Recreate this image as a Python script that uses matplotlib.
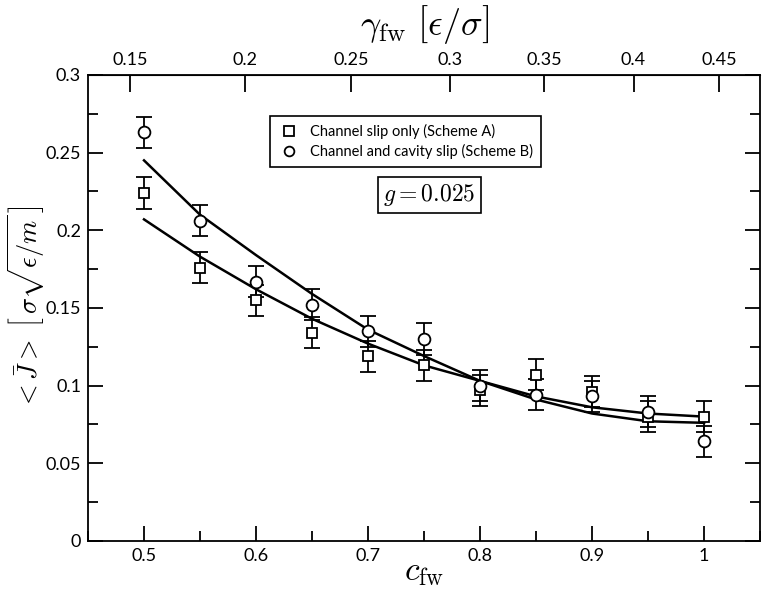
import numpy as np
import matplotlib
matplotlib.use('Agg')
import matplotlib.pyplot as plt
from matplotlib.lines import Line2D
from matplotlib.ticker import MultipleLocator

plt.rcParams['mathtext.fontset'] = 'cm'
plt.rcParams['font.family'] = ['Lato', 'DejaVu Sans']

# ── DATA ──
c_fw = [0.5, 0.55, 0.6, 0.65, 0.7, 0.75, 0.8, 0.85, 0.9, 0.95, 1.0]

# Scheme A: channel slip only
j_a = [0.224, 0.176, 0.155, 0.134, 0.119, 0.113, 0.097, 0.107, 0.096, 0.080, 0.080]
err_a = [0.01] * 11
fit_a = [0.207, 0.183, 0.162, 0.143, 0.127, 0.113, 0.103, 0.093, 0.086, 0.082, 0.080]

# Scheme B: channel and cavity slip
j_b = [0.263, 0.206, 0.167, 0.152, 0.135, 0.130, 0.100, 0.094, 0.093, 0.083, 0.064]
err_b = [0.01] * 11
fit_b = [0.245, 0.210, 0.184, 0.159, 0.136, 0.119, 0.103, 0.091, 0.082, 0.077, 0.076]

x_ticks = [0.5, 0.6, 0.7, 0.8, 0.9, 1.0]
x_ticklabels = ['0.5', '0.6', '0.7', '0.8', '0.9', '1']
y_ticks = [0, 0.05, 0.1, 0.15, 0.2, 0.25, 0.3]
y_ticklabels = ['0', '0.05', '0.1', '0.15', '0.2', '0.25', '0.3']
gamma_ticks = [0.15, 0.2, 0.25, 0.3, 0.35, 0.4, 0.45]
gamma_ticklabels = ['0.15', '0.2', '0.25', '0.3', '0.35', '0.4', '0.45']
legend_labels = ['Channel slip only (Scheme A)',
                 'Channel and cavity slip (Scheme B)']

# gamma_fw as a function of c_fw
K = 0.441


def c_to_gamma(c):
    return K * np.abs(c) ** 1.5


def gamma_to_c(g):
    return (np.abs(g) / K) ** (2.0 / 3.0)


# ── PLOT ──
fig = plt.figure(figsize=(7.62, 5.95), dpi=100)
ax = fig.add_axes([0.1155, 0.091, 0.882, 0.783])

ax.plot(c_fw, fit_a, color='black', lw=1.8, zorder=2)
ax.plot(c_fw, fit_b, color='black', lw=1.8, zorder=2)

ax.errorbar(c_fw, j_a, yerr=err_a, fmt='s', ms=6.5, mfc='white',
            mec='black', mew=1.3, ecolor='black', elinewidth=1.3,
            capsize=6, capthick=1.3, zorder=3)
ax.errorbar(c_fw, j_b, yerr=err_b, fmt='o', ms=8.5, mfc='white',
            mec='black', mew=1.3, ecolor='black', elinewidth=1.3,
            capsize=6, capthick=1.3, zorder=3)

ax.set_xlim(0.45, 1.05)
ax.set_ylim(0, 0.3)
ax.set_xticks(x_ticks)
ax.set_xticklabels(x_ticklabels)
ax.xaxis.set_minor_locator(MultipleLocator(0.05))
ax.set_yticks(y_ticks)
ax.set_yticklabels(y_ticklabels)
ax.yaxis.set_minor_locator(MultipleLocator(0.025))

ax.tick_params(which='both', direction='in', top=False, right=True,
               labelsize=13, width=1.3)
ax.tick_params(which='major', length=11, pad=5)
ax.tick_params(which='minor', length=7)
for s in ax.spines.values():
    s.set_linewidth(1.3)

ax.set_xlabel(r'$c_{\rm fw}$', fontsize=24, labelpad=-4)
ax.set_ylabel(r'$<\bar{J}>\ \left[\,\sigma\sqrt{\epsilon/m}\,\right]$',
              fontsize=19)
ax.yaxis.set_label_coords(-0.061, 0.5)

top = ax.secondary_xaxis('top', functions=(c_to_gamma, gamma_to_c))
top.set_xticks(gamma_ticks)
top.set_xticklabels(gamma_ticklabels)
top.tick_params(direction='in', length=12, width=1.3, labelsize=13, pad=5)
top.set_xlabel(r'$\gamma_{\rm fw}\ \left[\epsilon/\sigma\right]$',
               fontsize=26, labelpad=12)

handles = [Line2D([], [], ls='none', marker='s', ms=6.5, mfc='white',
                  mec='black', mew=1.3),
           Line2D([], [], ls='none', marker='o', ms=7, mfc='white',
                  mec='black', mew=1.3)]
leg = ax.legend(handles, legend_labels, loc='upper left',
                bbox_to_anchor=(0.26, 0.927), frameon=True,
                fancybox=False, edgecolor='black', framealpha=1,
                prop={'family': 'Lato', 'size': 10.5},
                handletextpad=0.7, borderpad=0.55, labelspacing=0.3,
                handlelength=1.5)
leg.get_frame().set_linewidth(1.2)

ax.text(0.508, 0.742, r'$g = 0.025$', transform=ax.transAxes,
        ha='center', va='center', fontsize=17,
        bbox=dict(boxstyle='square,pad=0.22', fc='white', ec='black',
                  lw=1.2))

fig.savefig('out.png', dpi=100)
